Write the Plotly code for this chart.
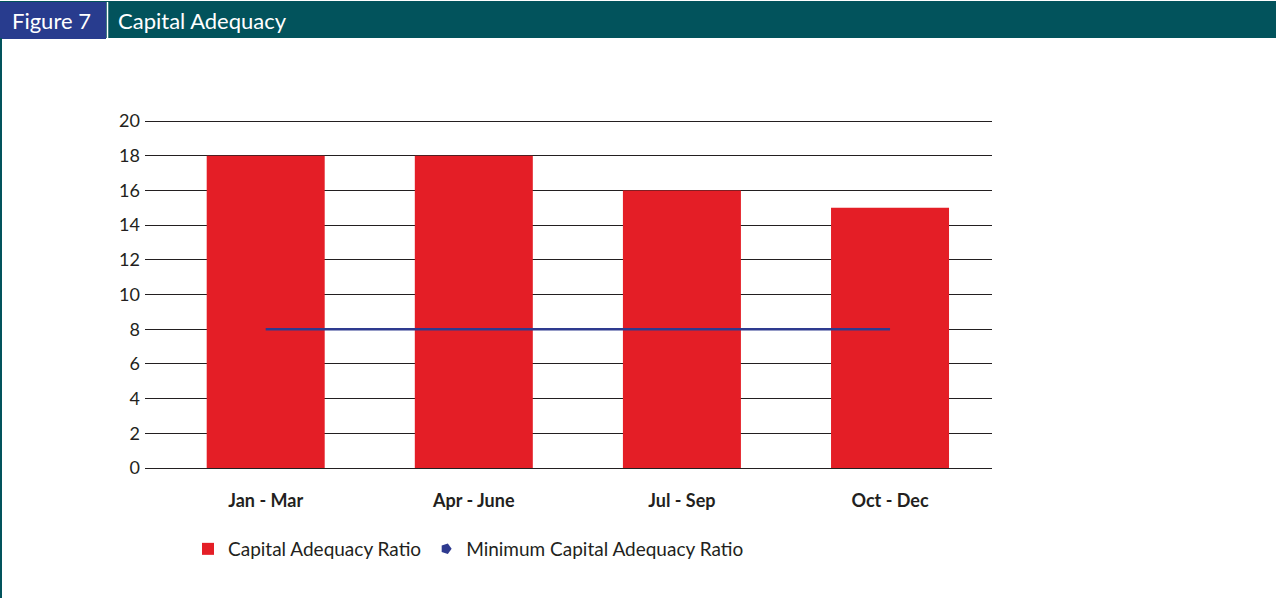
import plotly.graph_objects as go

W, H = 1276, 598

categories = ["Jan - Mar", "Apr - June", "Jul - Sep", "Oct - Dec"]
car_values = [18, 18, 16, 15]
min_car_values = [8, 8, 8, 8]
y_ticks = [0, 2, 4, 6, 8, 10, 12, 14, 16, 18, 20]

TEAL = "#02535C"
BLUE_HDR = "#283C8E"
RED = "#E41E26"
LINE_BLUE = "#2E3A8F"
TXT = "#231F20"
FONT = "Lato"

def px_x(x):
    return x / W

def px_y(y):
    return 1 - y / H

fig = go.Figure()
fig.add_trace(go.Bar(
    x=categories, y=car_values, name="Capital Adequacy Ratio",
    marker=dict(color=RED, line=dict(width=0)), width=0.567,
))
fig.add_trace(go.Scatter(
    x=categories, y=min_car_values, name="Minimum Capital Adequacy Ratio",
    mode="lines", line=dict(color=LINE_BLUE, width=2.5), showlegend=False,
))
# legend entry for the minimum line (marker-only symbol, as in the original)
fig.add_trace(go.Scatter(
    x=[None], y=[None], name="Minimum Capital Adequacy Ratio", mode="markers",
    marker=dict(symbol="pentagon", angle=90, color=LINE_BLUE, size=11),
))

shapes = [
    dict(type="rect", xref="paper", yref="paper", x0=0, x1=1,
         y0=px_y(38), y1=px_y(1), fillcolor=TEAL, line=dict(width=0), layer="below"),
    dict(type="rect", xref="paper", yref="paper", x0=0, x1=px_x(106),
         y0=px_y(39), y1=px_y(2), fillcolor=BLUE_HDR, line=dict(width=0), layer="below"),
    dict(type="line", xref="paper", yref="paper", x0=px_x(107.5), x1=px_x(107.5),
         y0=px_y(39), y1=px_y(2), line=dict(color="white", width=1.5)),
    dict(type="line", xref="paper", yref="paper", x0=px_x(1), x1=px_x(1),
         y0=0, y1=px_y(38), line=dict(color=TEAL, width=2)),
]

annotations = [
    dict(text="Figure 7", xref="paper", yref="paper", x=px_x(10), y=px_y(21),
         xanchor="left", yanchor="middle", showarrow=False,
         font=dict(family=FONT, size=22, color="white")),
    dict(text="Capital Adequacy", xref="paper", yref="paper", x=px_x(116), y=px_y(21),
         xanchor="left", yanchor="middle", showarrow=False,
         font=dict(family=FONT, size=22, color="white")),
]

PX_PER_UNIT = 347 / 20
Y_TOP = 20.25
fig.update_layout(
    width=W, height=H,
    margin=dict(l=0, r=0, t=0, b=0, autoexpand=False),
    paper_bgcolor="white", plot_bgcolor="white",
    font=dict(family=FONT, color=TXT),
    shapes=shapes, annotations=annotations,
    showlegend=True,
    legend=dict(orientation="h", x=px_x(188), y=px_y(549), xanchor="left", yanchor="middle",
                font=dict(family=FONT, size=19, color=TXT), bgcolor="rgba(0,0,0,0)",
                traceorder="normal"),
    xaxis=dict(
        domain=[px_x(145), px_x(992)], type="category", categoryorder="array",
        categoryarray=categories, range=[-0.58, 3.49], showgrid=False, showline=False,
        zeroline=False, ticks="", automargin=False,
        tickfont=dict(family=FONT, size=18, color=TXT, weight="bold"),
        ticklabelstandoff=20, fixedrange=True,
    ),
    yaxis=dict(
        domain=[1 - 468 / H, 1 - (121 - (Y_TOP - 20) * PX_PER_UNIT) / H], range=[0, Y_TOP],
        tickvals=y_ticks, automargin=False,
        showgrid=True, gridcolor=TXT, gridwidth=1, zeroline=True, zerolinecolor=TXT,
        zerolinewidth=1, showline=False, ticks="",
        tickfont=dict(family=FONT, size=18, color=TXT), ticklabelstandoff=4,
        fixedrange=True,
    ),
)

fig.write_html("out.html", config={"displayModeBar": False},
               post_script="document.body.style.margin='0';")
